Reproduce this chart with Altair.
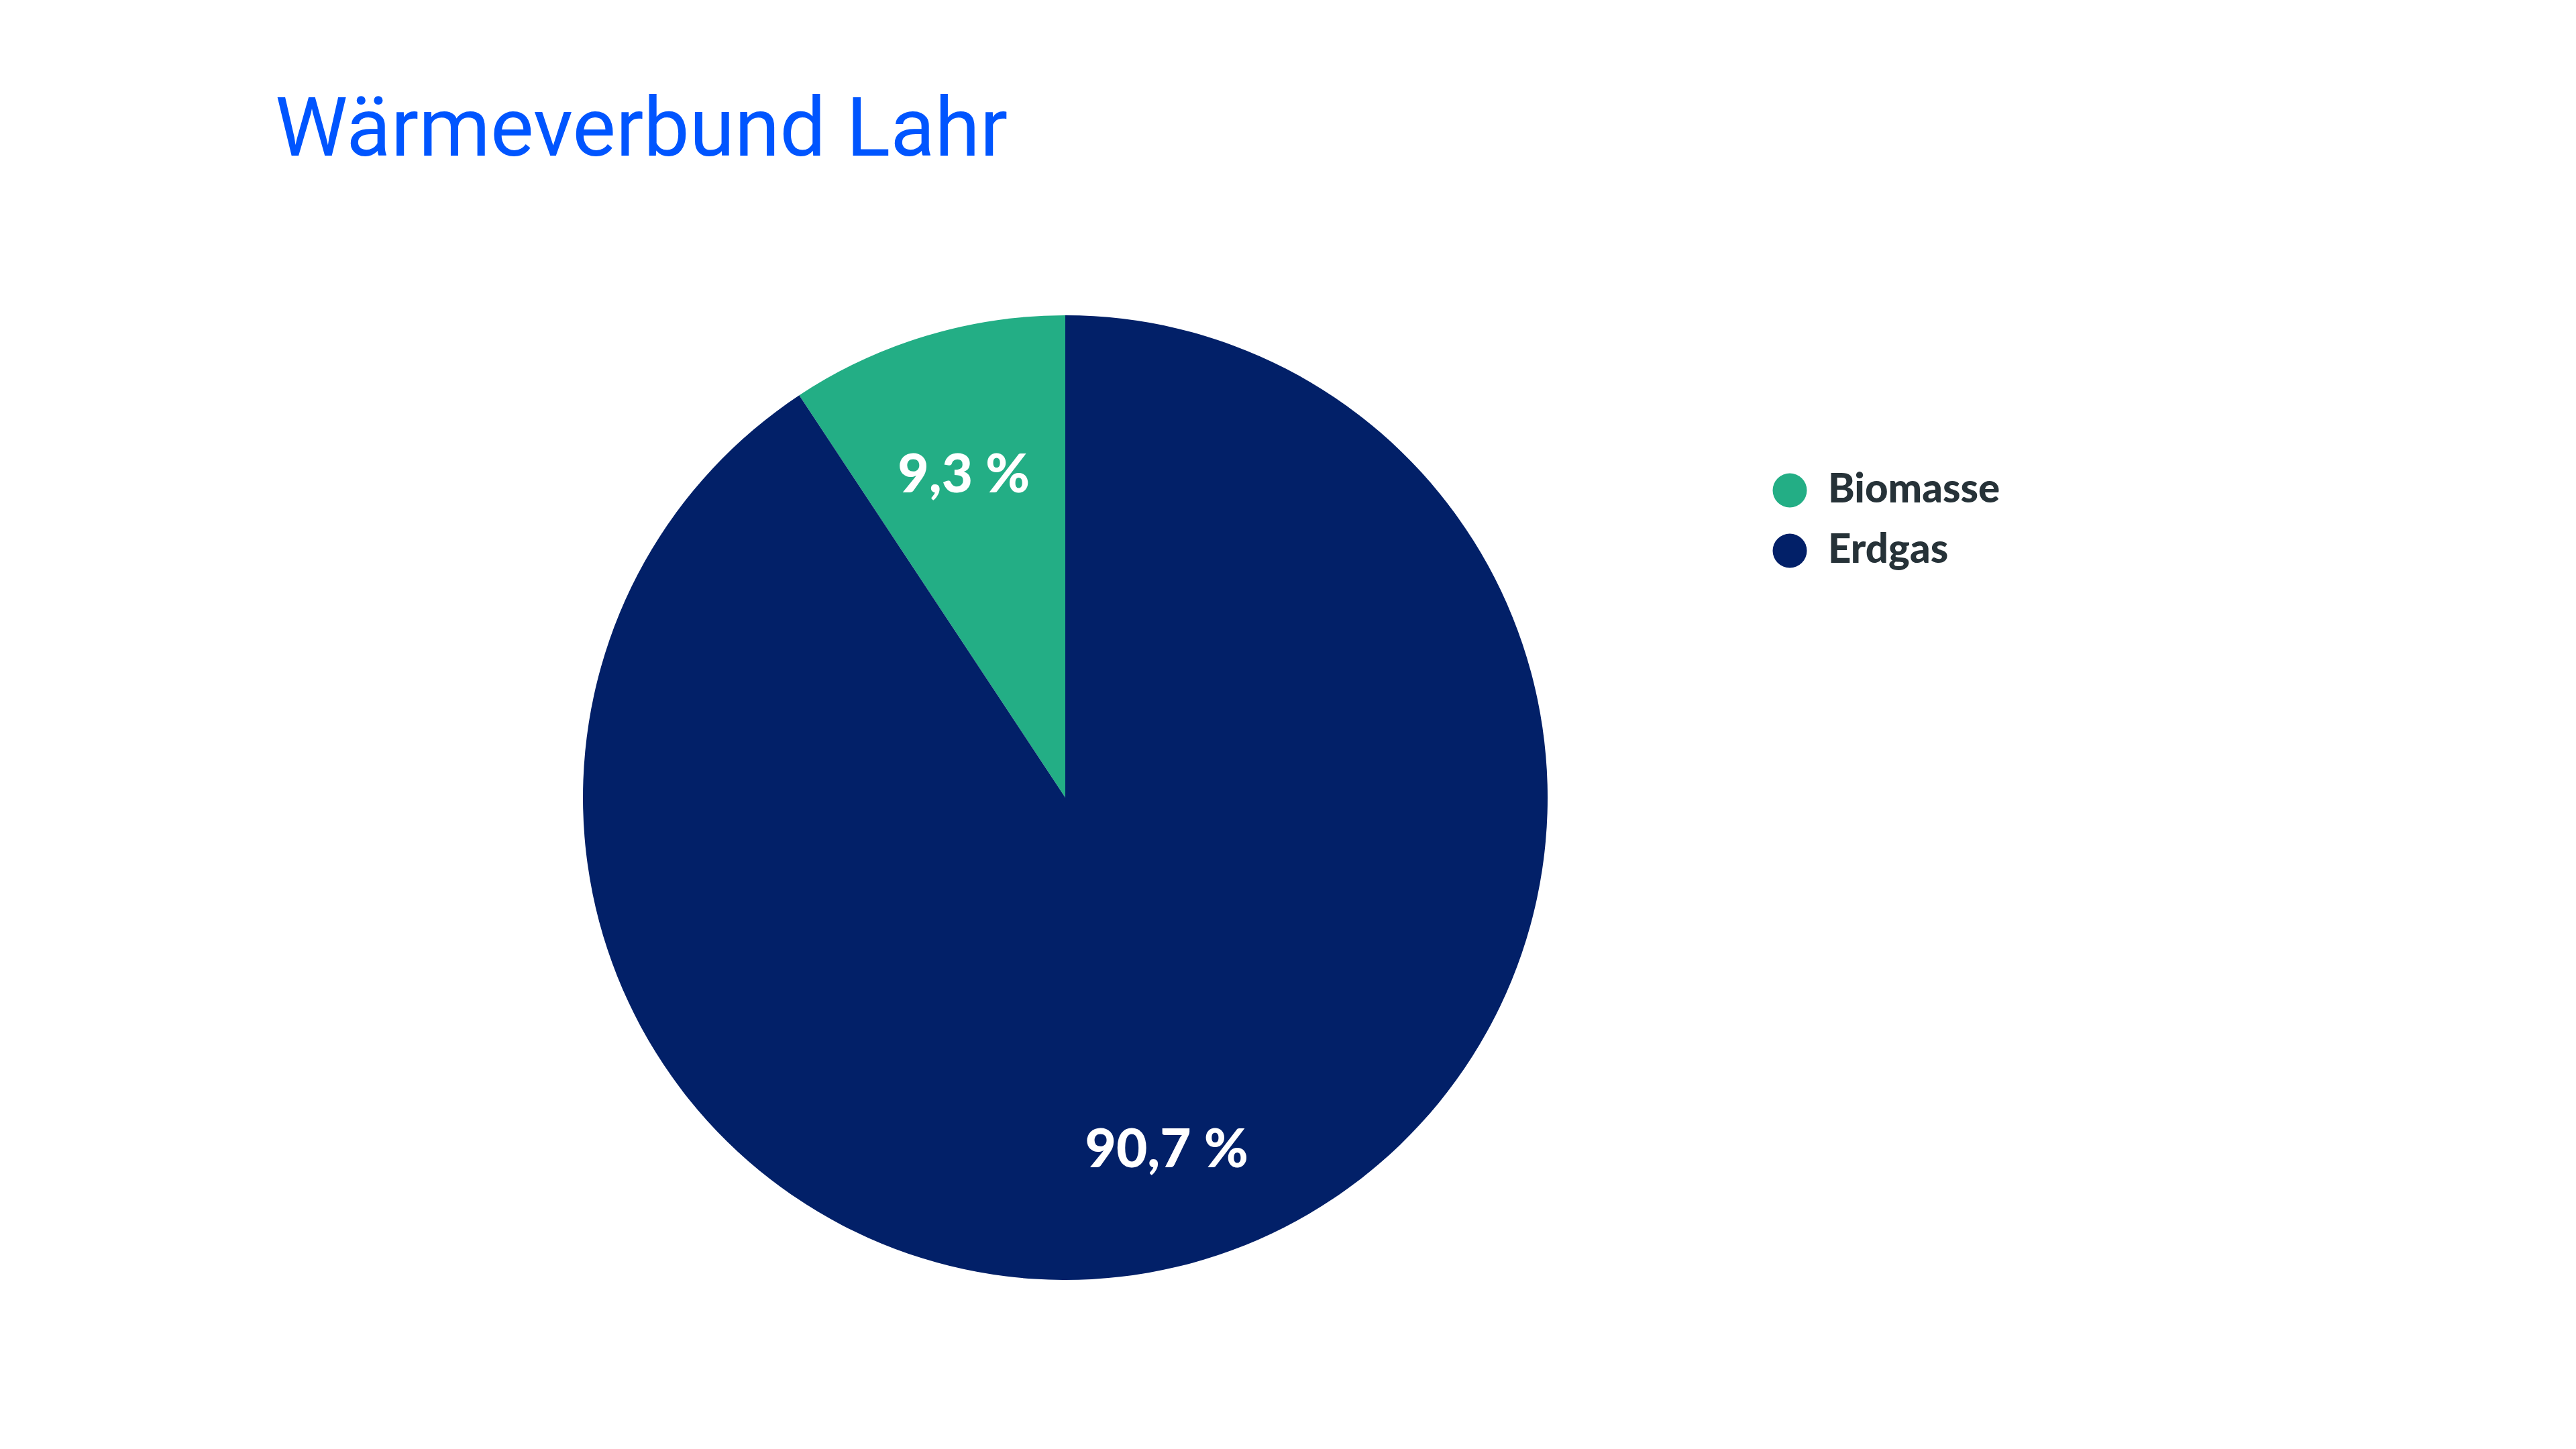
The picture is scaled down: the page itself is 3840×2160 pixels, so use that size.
import altair as alt
import pandas as pd

categories = ["Biomasse", "Erdgas"]
shares = [9.3, 90.7]
stack_order = [1, 0]
colors = ["#23AE85", "#022068"]

labels = [f"{v:.1f}".replace(".", ",") + " %" for v in shares]

df = pd.DataFrame({
    "Energieträger": categories,
    "Anteil": shares,
    "ord": stack_order,
    "label": labels,
})

CX, CY, R = 1580, 1181, 719

base = alt.Chart(df).encode(
    theta=alt.Theta("Anteil:Q", stack=True),
    order=alt.Order("ord:Q"),
    x=alt.value(CX),
    y=alt.value(CY),
)

arc = base.mark_arc(radius=R, stroke=None).encode(
    color=alt.Color(
        "Energieträger:N",
        scale=alt.Scale(domain=categories, range=colors),
        legend=alt.Legend(
            title=None,
            orient="none",
            legendX=2630,
            legendY=693,
            padding=0,
            symbolType="circle",
            symbolSize=2600,
            symbolStrokeWidth=0,
            symbolOpacity=1,
            labelFont="Lato",
            labelFontWeight=900,
            labelFontSize=60,
            labelColor="#263238",
            labelOffset=27,
            rowPadding=30,
            labelLimit=1000,
        ),
    )
)

text = base.mark_text(
    radius=525,
    dy=24,
    font="Lato",
    fontWeight=900,
    fontSize=80,
    color="white",
    baseline="middle",
    align="center",
).encode(text="label:N")

chart = (
    alt.layer(arc, text)
    .properties(
        width=3824,
        height=2144,
        padding=0,
        title=alt.TitleParams(
            "Wärmeverbund Lahr",
            anchor="start",
            frame="group",
            orient="top",
            font="Roboto",
            fontWeight="normal",
            fontSize=122,
            color="#0055FF",
            baseline="alphabetic",
            offset=0,
            dx=402,
            dy=346,
        ),
    )
    .configure_view(stroke=None)
)

chart.save("out.html", embed_options={"renderer": "svg", "actions": False})
